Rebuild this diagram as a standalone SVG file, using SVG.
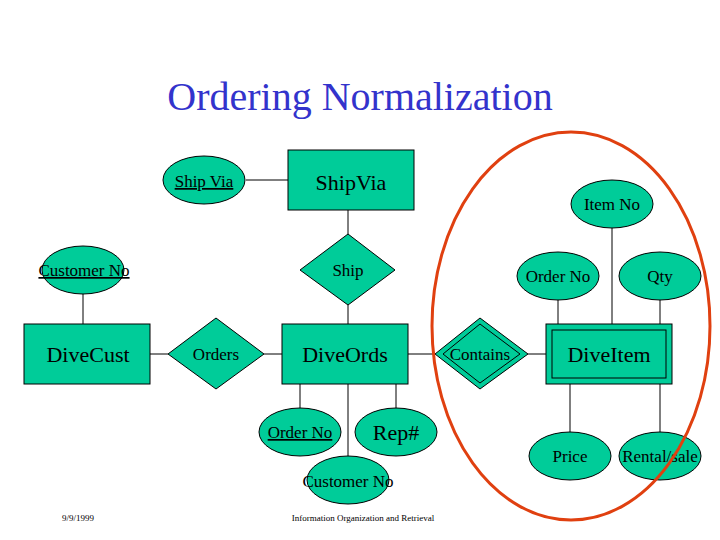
<svg xmlns="http://www.w3.org/2000/svg" width="720" height="540" viewBox="0 0 720 540">
<style>
.s{fill:#00CC99;stroke:#000;stroke-width:1}
.t{font-family:"Liberation Serif",serif;fill:#000;text-anchor:middle}
.l{stroke:#000;stroke-width:1;fill:none}
</style>
<rect width="720" height="540" fill="#fff"/>
<text x="360" y="110" class="t" style="font-size:40px;fill:#3333CC">Ordering Normalization</text>
<g id="connectors">
<line class="l" x1="246" y1="180" x2="288" y2="180"/>
<line class="l" x1="348" y1="210" x2="348" y2="234"/>
<line class="l" x1="348" y1="305" x2="348" y2="324"/>
<line class="l" x1="83" y1="294" x2="83" y2="324"/>
<line class="l" x1="150" y1="354" x2="168" y2="354"/>
<line class="l" x1="264" y1="354" x2="282" y2="354"/>
<line class="l" x1="300" y1="384" x2="300" y2="408"/>
<line class="l" x1="348" y1="384" x2="348" y2="456"/>
<line class="l" x1="396" y1="384" x2="396" y2="408"/>
<line class="l" x1="408" y1="354" x2="435" y2="354"/>
<line class="l" x1="528" y1="354" x2="546" y2="354"/>
<line class="l" x1="558" y1="300" x2="558" y2="324"/>
<line class="l" x1="612" y1="228" x2="612" y2="324"/>
<line class="l" x1="660" y1="300" x2="660" y2="324"/>
<line class="l" x1="570" y1="384" x2="570" y2="432"/>
<line class="l" x1="660" y1="384" x2="660" y2="432"/>
</g>
<g id="shipvia-attr"><ellipse class="s" cx="204" cy="180" rx="41" ry="24"/><text x="204" y="187" class="t" style="font-size:17px" text-decoration="underline">Ship Via</text></g>
<g id="shipvia"><rect class="s" x="288" y="150" width="126" height="60"/><text x="351" y="190" class="t" style="font-size:22px">ShipVia</text></g>
<g id="ship"><polygon class="s" points="348,234 395,270 348,305 300,270"/><text x="348" y="276" class="t" style="font-size:17px">Ship</text></g>
<g id="custno1"><ellipse class="s" cx="83" cy="270" rx="41" ry="24"/><text x="84" y="276" class="t" style="font-size:17px" text-decoration="underline">Customer No</text></g>
<g id="divecust"><rect class="s" x="24" y="324" width="126" height="60"/><text x="88" y="362" class="t" style="font-size:22px">DiveCust</text></g>
<g id="orders"><polygon class="s" points="216,318 264,354 216,389 168,354"/><text x="216" y="360" class="t" style="font-size:17px">Orders</text></g>
<g id="diveords"><rect class="s" x="282" y="324" width="126" height="60"/><text x="345" y="362" class="t" style="font-size:22px">DiveOrds</text></g>
<g id="orderno1"><ellipse class="s" cx="300" cy="432" rx="41" ry="24"/><text x="300" y="438" class="t" style="font-size:17px" text-decoration="underline">Order No</text></g>
<g id="rep"><ellipse class="s" cx="396" cy="432" rx="41" ry="24"/><text x="396" y="440" class="t" style="font-size:22px">Rep#</text></g>
<g id="custno2"><ellipse class="s" cx="348" cy="480" rx="41" ry="24"/><text x="348" y="487" class="t" style="font-size:17px">Customer No</text></g>
<g id="contains"><polygon class="s" points="480,318 528,354 480,389 435,354"/><polygon class="l" points="480,324 520,354 480,383 443,354"/><text x="480" y="360" class="t" style="font-size:17px">Contains</text></g>
<g id="diveitem"><rect class="s" x="546" y="324" width="126" height="60"/><rect class="l" x="552" y="330" width="114" height="48"/><text x="609" y="362" class="t" style="font-size:22px">DiveItem</text></g>
<g id="itemno"><ellipse class="s" cx="612" cy="204" rx="41" ry="24"/><text x="612" y="210" class="t" style="font-size:17px">Item No</text></g>
<g id="orderno2"><ellipse class="s" cx="558" cy="276" rx="41" ry="24"/><text x="558" y="282" class="t" style="font-size:17px">Order No</text></g>
<g id="qty"><ellipse class="s" cx="660" cy="276" rx="41" ry="24"/><text x="660" y="282" class="t" style="font-size:17px">Qty</text></g>
<g id="price"><ellipse class="s" cx="570" cy="456" rx="41" ry="24"/><text x="570" y="462" class="t" style="font-size:17px">Price</text></g>
<g id="rental"><ellipse class="s" cx="660" cy="456" rx="41" ry="24"/><text x="660" y="462" class="t" style="font-size:17px">Rental/sale</text></g>
<ellipse cx="571" cy="326" rx="139" ry="194" fill="none" stroke="#E04010" stroke-width="3"/>
<text x="78" y="521" class="t" style="font-size:9px">9/9/1999</text>
<text x="363" y="521" class="t" style="font-size:9px">Information Organization and Retrieval</text>
</svg>
